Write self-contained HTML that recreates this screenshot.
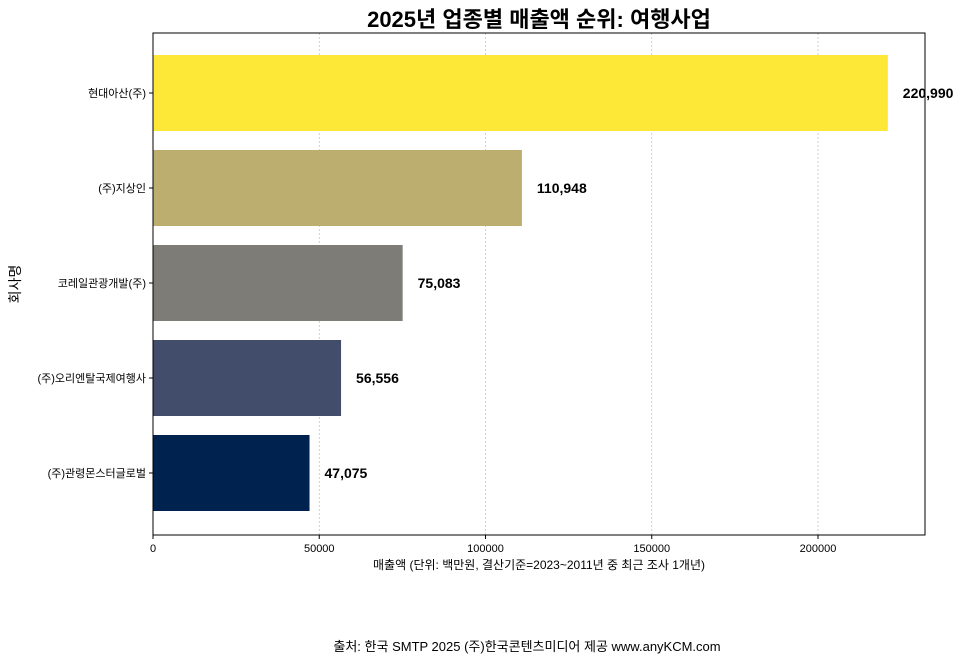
<!DOCTYPE html>
<html><head><meta charset="utf-8"><style>
body{margin:0;background:#fff;width:966px;height:662px;overflow:hidden;font-family:"Liberation Sans","Noto Sans CJK KR",sans-serif}
svg text{font-family:"Liberation Sans","Noto Sans CJK KR",sans-serif}
</style></head><body>
<svg id="chart" width="966" height="662">
<text x="539" y="27" text-anchor="middle" font-size="22" font-weight="bold">2025년 업종별 매출액 순위: 여행사업</text>
<g id="grid"></g>
<g id="bars"></g>
<rect x="153" y="33" width="772" height="502" fill="none" stroke="#000" stroke-width="1"/>
<g id="xaxis"></g>
<g id="yaxis"></g>
<text x="539" y="569" text-anchor="middle" font-size="12">매출액 (단위: 백만원, 결산기준=2023~2011년 중 최근 조사 1개년)</text>
<text transform="translate(20,284) rotate(-90)" text-anchor="middle" font-size="14">회사명</text>
<text x="527" y="651" text-anchor="middle" font-size="13">출처: 한국 SMTP 2025  (주)한국콘텐츠미디어 제공  www.anyKCM.com</text>
</svg>
<script>
const companies=["현대아산(주)","(주)지상인","코레일관광개발(주)","(주)오리엔탈국제여행사","(주)관령몬스터글로벌"];
const sales=[220990,110948,75083,56556,47075];
const valueLabels=["220,990","110,948","75,083","56,556","47,075"];
const colors=["#fde737","#bcae6e","#7e7c76","#424d6b","#00224e"];
const xTicks=[0,50000,100000,150000,200000];
const NS="http://www.w3.org/2000/svg";
const x0=153,xScale=166.25/50000;
const xs=v=>x0+v*xScale;
const ys=i=>93+i*95;
function mk(t,a,p){const e=document.createElementNS(NS,t);for(const k in a)e.setAttribute(k,a[k]);p.appendChild(e);return e;}
const grid=document.getElementById('grid'),xa=document.getElementById('xaxis'),ya=document.getElementById('yaxis'),bars=document.getElementById('bars');
xTicks.forEach(t=>{
 const g=mk('line',{x1:xs(t),x2:xs(t),y1:33,y2:535,stroke:'#bbb','stroke-width':0.7,'stroke-dasharray':'2,2'},grid);
 
 
 const tk=mk('line',{x1:xs(t),x2:xs(t),y1:535,y2:539,stroke:'#000'},xa);
 
 
 const l=mk('text',{x:xs(t),y:552,'text-anchor':'middle','font-size':11},xa);
 l.textContent=t;
 
 
});
companies.forEach((c,i)=>{
 const r=mk('rect',{x:x0,y:ys(i)-38,width:xs(sales[i])-x0,height:76,fill:colors[i]},bars);
 
 
 const v=mk('text',{x:xs(sales[i])+15,y:ys(i)+5,'font-size':14,'font-weight':'bold'},bars);
 v.textContent=valueLabels[i];
 
 
 const tk=mk('line',{x1:149,x2:153,y1:ys(i),y2:ys(i),stroke:'#000'},ya);
 
 
 const l=mk('text',{x:146,y:ys(i)+4,'text-anchor':'end','font-size':11},ya);
 l.textContent=c;
 
 
});
</script>
</body></html>
